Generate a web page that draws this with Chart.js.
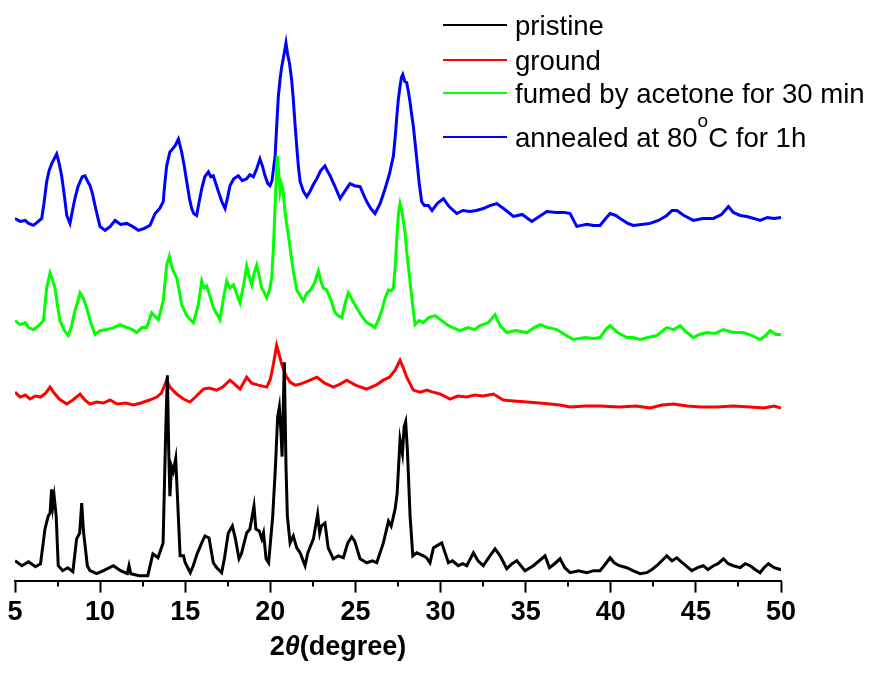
<!DOCTYPE html>
<html>
<head>
<meta charset="utf-8">
<script src="https://cdn.jsdelivr.net/npm/chart.js@4/dist/chart.umd.min.js"></script>
<style>
  html, body { margin: 0; padding: 0; background: #fff; }
  #wrap { width: 872px; height: 673px; }
</style>
</head>
<body>
<div id="wrap"><canvas id="c" width="872" height="673"></canvas></div>
<script>
// ---- data (2θ in degrees, intensity in arbitrary stacked units) ----
const seriesNames = ["pristine", "ground", "fumed by acetone for 30 min", "annealed at 80°C for 1h"];
const seriesColors = ["#000000", "#ff0000", "#00ff00", "#0000ff"];
const xTicks = [5, 10, 15, 20, 25, 30, 35, 40, 45, 50];

const pristineX = [5,5.4,5.8,6.2,6.5,6.76,6.95,7.06,7.15,7.22,7.3,7.42,7.54,7.8,8.1,8.4,8.62,8.8,8.92,9.02,9.25,9.4,9.8,10.2,10.78,11.2,11.6,11.7,11.8,12.3,12.8,13.1,13.4,13.7,13.85,13.95,14.03,14.1,14.2,14.3,14.44,14.55,14.7,14.9,15.0,15.18,15.3,15.47,15.7,15.97,16.16,16.4,16.65,16.85,17.14,17.3,17.53,17.77,17.95,18.16,18.3,18.61,18.8,19.04,19.15,19.35,19.5,19.6,19.75,19.9,20.14,20.3,20.43,20.53,20.63,20.69,20.77,20.82,20.92,21.0,21.16,21.35,21.55,21.75,22.04,22.2,22.53,22.78,22.9,23.0,23.21,23.4,23.7,24.0,24.29,24.55,24.78,24.95,25.27,25.66,26.0,26.25,26.64,26.94,27.1,27.33,27.45,27.62,27.76,27.86,27.95,28.05,28.21,28.37,28.6,28.99,29.18,29.38,29.58,29.77,30.07,30.46,30.7,31.04,31.3,31.54,31.93,32.2,32.51,32.9,33.2,33.5,33.89,34.2,34.48,34.96,35.45,35.8,36.14,36.4,36.7,37.02,37.3,37.61,38.1,38.59,39.0,39.37,39.7,39.96,40.2,40.5,40.94,41.3,41.72,42.11,42.4,42.7,43.0,43.29,43.6,43.88,44.2,44.76,45.1,45.44,45.7,46.03,46.3,46.62,46.9,47.2,47.6,47.9,48.19,48.5,48.77,49.0,49.26,49.6,50];
const pristineY = [20,15,19,14,17,52,65,68,92,75,85,65,15,10,13,9,42,48,78,50,15,10,7,10,15,10,7,15,7,5,5,27,23,38,148,207,132,85,115,110,123,82,25,25,18,12,8,15,27,38,45,43,18,13,8,22,48,55,42,22,27,48,52,75,52,50,42,48,22,18,65,115,165,175,148,125,182,220,115,65,38,45,33,28,15,28,42,67,48,55,58,33,22,25,23,38,44,40,22,18,20,18,38,60,55,72,88,142,128,155,160,132,65,25,28,25,23,18,33,35,38,18,20,15,17,15,28,20,15,25,32,25,12,17,20,10,15,20,25,13,17,22,13,8,10,8,10,10,17,23,18,15,13,10,7,8,11,15,20,25,20,23,18,10,13,15,11,15,17,22,17,15,13,17,15,11,8,13,17,13,11];

const groundX = [5,5.3,5.6,5.88,6.2,6.5,6.8,7.06,7.3,7.6,8.04,8.4,8.82,9.1,9.4,9.8,10.2,10.58,11.0,11.5,11.95,12.4,12.9,13.33,13.6,13.91,14.1,14.5,14.9,15.28,15.6,16.06,16.4,16.85,17.2,17.63,17.9,18.22,18.61,18.9,19.3,19.79,20.0,20.18,20.37,20.5,20.67,20.9,21.16,21.45,21.75,22.2,22.73,23.2,23.7,24.1,24.49,25.0,25.66,26.2,26.64,27.0,27.33,27.62,27.8,28.01,28.4,28.8,29.2,29.56,30.0,30.56,31.0,31.54,32.0,32.5,33.1,33.69,34.3,35.06,35.8,36.43,37.0,37.61,38.5,39.37,40.5,41.5,42.31,43.0,43.68,44.5,45.3,46.23,47.2,48.19,49.0,49.6,50];
const groundY = [190,185,187,183,186,185,189,195,189,183,178,182,188,182,178,180,179,182,178,179,177,179,182,185,189,202,195,188,183,180,185,193,194,192,195,202,198,193,205,199,197,195,203,218,237,229,218,207,200,197,198,201,205,199,195,198,202,197,193,197,202,205,212,222,215,205,192,190,192,190,188,183,186,185,187,186,188,182,181,180,179,178,177,175,176,176,175,176,174,177,178,176,175,175,176,175,174,176,174];

const fumedX = [5,5.3,5.6,5.8,6.08,6.4,6.67,6.86,7.06,7.2,7.35,7.5,7.64,7.9,8.13,8.3,8.52,8.7,8.82,9.0,9.21,9.45,9.7,10.0,10.39,10.8,11.17,11.6,11.9,12.15,12.45,12.74,13.03,13.2,13.42,13.71,13.91,14.07,14.2,14.3,14.5,14.65,14.79,15.09,15.3,15.48,15.77,15.97,16.1,16.26,16.45,16.65,16.85,17.04,17.25,17.44,17.63,17.83,18.0,18.22,18.45,18.61,18.75,18.91,19.05,19.2,19.35,19.49,19.65,19.79,19.95,20.08,20.18,20.28,20.35,20.41,20.5,20.57,20.65,20.73,20.86,20.95,21.06,21.2,21.35,21.55,21.75,21.94,22.15,22.33,22.6,22.82,22.95,23.11,23.3,23.51,23.8,24.0,24.19,24.4,24.58,24.8,25.07,25.35,25.66,25.9,26.15,26.35,26.54,26.75,26.94,27.1,27.23,27.33,27.43,27.53,27.62,27.72,27.82,27.92,28.01,28.12,28.25,28.38,28.5,28.75,28.99,29.3,29.68,30.0,30.36,30.7,31.15,31.6,32.0,32.32,32.8,33.2,33.5,33.89,34.4,35.06,35.5,35.85,36.3,36.83,37.3,37.8,38.5,39.0,39.37,39.7,39.96,40.4,40.94,41.3,41.72,42.2,42.7,43.0,43.29,43.7,44.07,44.4,44.85,45.2,45.64,46.1,46.62,47.2,47.79,48.3,48.77,49.1,49.36,49.7,50];
const fumedY = [262,258,260,255,253,257,262,295,310,303,295,277,262,252,247,255,272,282,290,285,275,260,248,252,253,255,258,255,253,250,255,255,270,267,263,282,318,327,317,312,305,292,278,267,263,260,278,302,295,297,287,275,269,263,285,302,295,298,290,280,300,317,307,298,310,318,307,295,290,285,293,305,335,378,405,428,410,392,400,395,373,360,348,330,312,293,287,282,290,292,300,312,303,295,293,285,270,267,265,280,290,283,275,267,260,258,255,263,272,285,293,292,295,315,345,370,380,373,362,350,332,315,295,275,258,262,260,265,267,263,258,255,252,255,253,257,260,268,257,250,252,250,255,258,255,253,248,243,245,244,245,253,257,250,245,245,243,245,247,251,255,253,257,251,245,248,250,249,253,250,250,247,243,247,252,248,248];

const annealedX = [5,5.3,5.6,5.8,6.08,6.3,6.57,6.7,6.86,7.0,7.15,7.3,7.45,7.6,7.74,7.9,8.04,8.23,8.4,8.52,8.7,8.82,8.95,9.11,9.25,9.41,9.55,9.7,9.85,9.99,10.29,10.6,10.88,11.2,11.56,11.9,12.25,12.6,12.93,13.23,13.5,13.71,13.8,13.91,14.1,14.25,14.4,14.6,14.79,14.95,15.09,15.25,15.38,15.5,15.67,15.8,15.97,16.15,16.36,16.5,16.65,16.8,16.95,17.15,17.34,17.5,17.63,17.85,18.12,18.35,18.61,18.8,19.0,19.2,19.39,19.55,19.69,19.85,19.98,20.1,20.28,20.38,20.47,20.57,20.67,20.8,20.92,21.02,21.12,21.25,21.35,21.45,21.55,21.65,21.75,21.95,22.14,22.35,22.55,22.73,22.95,23.21,23.35,23.51,23.8,24.1,24.4,24.68,24.95,25.27,25.45,25.66,25.9,26.15,26.45,26.74,27.0,27.23,27.35,27.43,27.52,27.62,27.7,27.78,27.9,28.01,28.11,28.21,28.3,28.4,28.5,28.6,28.75,28.89,29.05,29.28,29.5,29.8,30.17,30.5,30.95,31.3,31.73,32.1,32.51,32.9,33.3,33.7,34.0,34.28,34.8,35.36,35.8,36.24,36.8,37.3,37.61,38.0,38.6,39.0,39.37,39.7,39.96,40.3,40.55,41.0,41.33,41.8,42.31,42.8,43.29,43.6,43.88,44.3,44.85,45.4,46.03,46.5,46.91,47.2,47.6,47.99,48.4,48.77,49.2,49.6,50];
const annealedY = [365,362,363,360,358,361,365,380,402,413,420,425,430,420,408,388,368,360,375,385,397,402,407,408,403,398,390,378,367,357,353,357,363,359,360,357,353,355,358,370,375,382,400,418,432,435,438,445,432,417,402,385,375,370,368,380,395,407,412,407,408,400,392,382,375,387,398,405,408,403,405,409,407,415,425,417,408,400,398,403,428,460,488,505,518,530,542,530,522,505,485,460,438,417,402,392,387,393,400,405,413,418,413,408,397,385,393,400,398,397,390,382,375,370,380,395,410,428,450,468,485,498,507,510,503,502,493,482,470,458,442,425,400,382,378,378,373,380,385,377,370,373,372,373,375,378,380,375,371,367,369,362,367,372,371,371,370,357,359,358,358,365,370,368,365,360,358,359,360,363,368,373,373,368,363,365,365,369,377,371,368,367,365,363,366,365,366];

// ---- build datasets from the arrays ----
function pts(xs, ys) { return xs.map((x, i) => ({ x: x, y: ys[i] })); }
const seriesData = [pts(pristineX, pristineY), pts(groundX, groundY), pts(fumedX, fumedY), pts(annealedX, annealedY)];

const FONT = "'Liberation Sans', Arial, Helvetica, sans-serif";

// minor ticks (every 2.5°) drawn through the x scale
const minorTicks = {
  id: 'minorTicks',
  afterDraw(chart) {
    const xs = chart.scales.x, ctx = chart.ctx, bottom = chart.chartArea.bottom;
    ctx.save();
    ctx.strokeStyle = '#000'; ctx.lineWidth = 2;
    for (let v = xs.min + 2.5; v < xs.max; v += 5) {
      const px = Math.round(xs.getPixelForValue(v));
      ctx.beginPath(); ctx.moveTo(px, bottom); ctx.lineTo(px, bottom + 6); ctx.stroke();
    }
    ctx.restore();
  }
};

// axis title with italic theta
const axisTitle = {
  id: 'axisTitle',
  afterDraw(chart) {
    const ctx = chart.ctx, ca = chart.chartArea;
    const parts = [
      { t: '2', f: "bold 27px " + FONT },
      { t: 'θ', f: "italic bold 27px " + FONT },
      { t: '(degree)', f: "bold 27px " + FONT }
    ];
    ctx.save();
    let w = 0;
    parts.forEach(p => { ctx.font = p.f; p.w = ctx.measureText(p.t).width; w += p.w; });
    let x = ca.left + 323 - w / 2;
    const y = ca.bottom + 74;
    ctx.fillStyle = '#000'; ctx.textBaseline = 'alphabetic';
    parts.forEach(p => { ctx.font = p.f; ctx.fillText(p.t, x, y); x += p.w; });
    ctx.restore();
  }
};

// legend drawn with superscript "o"
const customLegend = {
  id: 'customLegend',
  afterDraw(chart) {
    const ctx = chart.ctx;
    const rowsY = [25, 60, 93, 137];
    ctx.save();
    chart.data.datasets.forEach((ds, i) => {
      const y = rowsY[i];
      ctx.strokeStyle = ds.borderColor; ctx.lineWidth = 2;
      ctx.beginPath(); ctx.moveTo(443, y); ctx.lineTo(507, y); ctx.stroke();
      ctx.fillStyle = '#000'; ctx.textBaseline = 'alphabetic';
      ctx.font = "27.6px " + FONT;
      const label = ds.label;
      const deg = label.indexOf('°');
      if (deg < 0) {
        ctx.fillText(label, 515, y + 10);
      } else {
        const a = label.slice(0, deg), b = label.slice(deg + 1);
        let x = 515;
        ctx.fillText(a, x, y + 10); x += ctx.measureText(a).width;
        ctx.font = "19px " + FONT;
        ctx.fillText('o', x, y - 10); x += ctx.measureText('o').width;
        ctx.font = "27.6px " + FONT;
        ctx.fillText(b, x, y + 10);
      }
    });
    ctx.restore();
  }
};

new Chart(document.getElementById('c'), {
  type: 'line',
  data: {
    datasets: seriesNames.map((n, i) => ({
      label: n,
      data: seriesData[i],
      borderColor: seriesColors[i],
      backgroundColor: seriesColors[i],
      borderWidth: 3,
      pointRadius: 0,
      tension: 0,
      fill: false
    }))
  },
  options: {
    responsive: false,
    devicePixelRatio: 1,
    animation: false,
    parsing: true,
    layout: { padding: { left: 15, right: 91, top: 20, bottom: 40 } },
    plugins: { legend: { display: false }, tooltip: { enabled: false } },
    scales: {
      x: {
        type: 'linear',
        min: 5, max: 50,
        afterBuildTicks(scale) { scale.ticks = xTicks.map(v => ({ value: v })); },
        ticks: { color: '#000', font: { family: FONT, size: 27, weight: 'bold' }, padding: 4, maxRotation: 0, autoSkip: false },
        grid: { drawOnChartArea: false, drawTicks: true, tickLength: 12, tickWidth: 2, tickColor: '#000' },
        border: { display: true, color: '#000', width: 2 }
      },
      y: {
        type: 'linear', display: false, min: 0, max: 565
      }
    }
  },
  plugins: [minorTicks, axisTitle, customLegend]
});
</script>
</body>
</html>
